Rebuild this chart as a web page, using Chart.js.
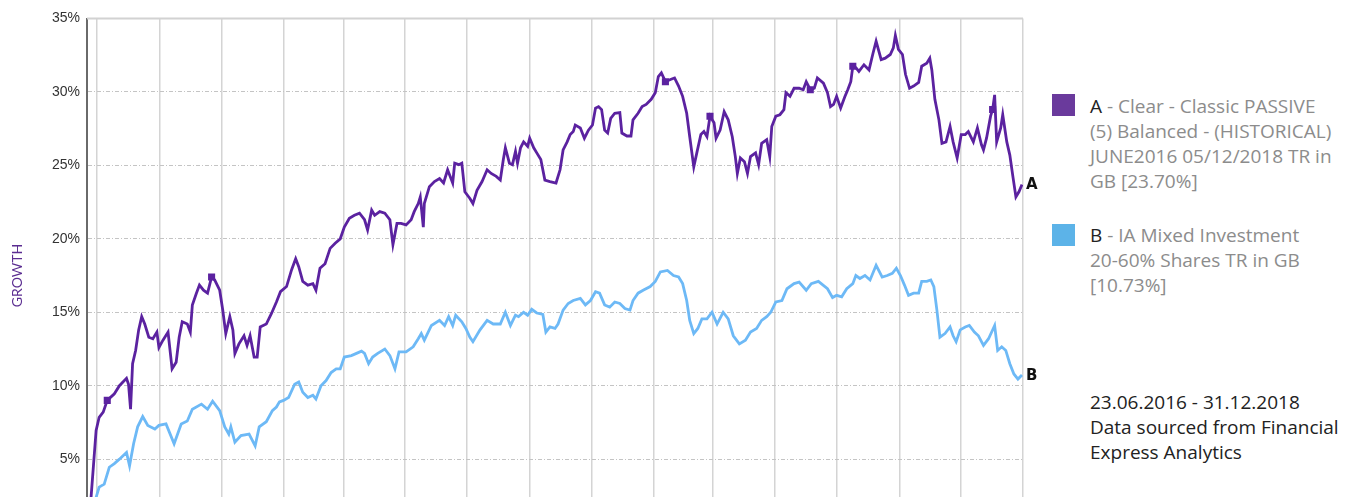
<!DOCTYPE html>
<html>
<head>
<meta charset="utf-8">
<script src="https://cdn.jsdelivr.net/npm/chart.js@4.4.1/dist/chart.umd.min.js"></script>
<style>
  html, body { margin: 0; padding: 0; background: #fff; overflow: hidden; width: 1354px; height: 497px; }
  #wrap { position: absolute; left: 0; top: 0; width: 1045px; height: 548px; }
  .legend { position: absolute; left: 1052px; font-family: "Open Sans", Lato, sans-serif; font-size: 19px; line-height: 25px; color: #8c8c8c; }
  .legend .sw { position: absolute; left: 0; top: 0; width: 23px; height: 22px; }
  .legend .txt { position: absolute; left: 38px; top: 0; white-space: nowrap; }
  .legend b { font-weight: normal; color: #222; }
  .note { position: absolute; left: 1090px; top: 390px; font-family: "Open Sans", Lato, sans-serif; font-size: 19px; line-height: 25px; color: #222; white-space: nowrap; }
</style>
</head>
<body>
<div id="wrap"><canvas id="chart"></canvas></div>

<div class="legend" style="top:94px">
  <div class="sw" style="background:#6a3a9c"></div>
  <div class="txt"><b>A</b> - Clear - Classic PASSIVE<br>(5) Balanced - (HISTORICAL)<br>JUNE2016 05/12/2018 TR in<br>GB [23.70%]</div>
</div>
<div class="legend" style="top:224px">
  <div class="sw" style="background:#5cb3e8"></div>
  <div class="txt" style="top:-1px"><b>B</b> - IA Mixed Investment<br>20-60% Shares TR in GB<br>[10.73%]</div>
</div>
<div class="note">23.06.2016 - 31.12.2018<br>Data sourced from Financial<br>Express Analytics</div>

<script>
// days counted from 23.06.2016
const startDate = Date.UTC(2016, 5, 23);

// vertical grid lines (every other month)
const gridMonths = [
  "2016-07-01", "2016-09-01", "2016-11-01", "2017-01-01", "2017-03-01", "2017-05-01",
  "2017-07-01", "2017-09-01", "2017-11-01", "2018-01-01", "2018-03-01", "2018-05-01",
  "2018-07-01", "2018-09-01", "2018-11-01", "2019-01-01"
];

const yTicks = [0, 5, 10, 15, 20, 25, 30, 35];

// A - Clear - Classic PASSIVE (5) Balanced
const daysA = [
  0, 2, 7, 10, 14, 18, 25, 30, 37, 39, 41, 43, 46, 49, 52, 55, 59, 63, 67, 69,
  73, 78, 82, 86, 89, 92, 97, 100, 102, 106, 109, 113, 117, 121, 124, 129, 132, 135, 139, 142,
  144, 148, 153, 156, 159, 163, 166, 169, 175, 180, 185, 189, 195, 200, 204, 207, 211, 216, 221, 224,
  228, 233, 238, 243, 248, 252, 257, 262, 267, 272, 275, 279, 282, 287, 292, 297, 300, 304, 308, 313,
  318, 321, 325, 327, 330, 331, 336, 341, 346, 350, 354, 359, 361, 365, 368, 371, 376, 379, 383, 388,
  393, 397, 402, 406, 409, 411, 415, 418, 421, 423, 426, 429, 433, 435, 439, 442, 446, 450, 455, 461,
  465, 468, 472, 475, 478, 480, 485, 489, 493, 497, 500, 503, 506, 509, 512, 515, 519, 524, 526, 531,
  535, 537, 542, 546, 550, 555, 559, 562, 565, 569, 574, 578, 582, 586, 590, 593, 597, 600, 604, 607,
  610, 613, 617, 619, 623, 627, 631, 635, 638, 640, 643, 647, 650, 653, 658, 661, 664, 669, 672, 674,
  678, 682, 686, 688, 692, 696, 701, 705, 708, 712, 716, 719, 725, 729, 732, 735, 738, 742, 746, 749,
  752, 754, 757, 760, 765, 770, 774, 777, 782, 786, 791, 794, 796, 799, 803, 806, 810, 814, 819, 822,
  827, 830, 832, 835, 839, 842, 846, 850, 853, 857, 861, 865, 868, 873, 877, 881, 883, 886, 890, 892,
  894, 896, 900, 902, 906, 909, 912, 915, 918, 921
];
const valuesA = [
  0, 2.4, 6.95, 7.85, 8.2, 9.0, 9.45, 10.0, 10.5, 10.1, 8.4, 11.5, 12.4, 13.8, 14.7, 14.2, 13.3, 13.2, 13.65, 12.6,
  13.1, 13.65, 11.15, 11.6, 13.3, 14.35, 14.2, 13.65, 15.5, 16.3, 16.85, 16.5, 16.3, 17.4, 17.2, 16.5, 15.15, 13.55, 14.7, 13.8,
  12.2, 12.85, 13.4, 12.75, 13.4, 11.95, 11.95, 14.0, 14.2, 14.9, 15.7, 16.4, 16.75, 17.9, 18.65, 18.1, 17.1, 16.85, 16.95, 16.5,
  18.0, 18.3, 19.35, 19.7, 20.0, 20.8, 21.4, 21.6, 21.75, 21.3, 20.6, 21.95, 21.6, 21.85, 21.75, 21.3, 19.6, 21.05, 21.05, 20.95,
  21.3, 21.85, 22.4, 22.85, 20.8, 22.4, 23.55, 23.9, 24.1, 23.8, 24.7, 23.8, 25.15, 25.05, 25.15, 23.2, 22.75, 22.4, 23.3, 23.9,
  24.7, 24.45, 24.25, 24.0, 25.4, 26.2, 25.15, 25.05, 25.95, 25.15, 26.2, 26.6, 26.3, 26.85, 26.2, 25.85, 25.4, 24.0, 23.9, 23.8,
  24.7, 26.05, 26.6, 27.1, 27.3, 27.75, 27.55, 26.85, 27.4, 27.75, 28.9, 29.0, 28.8, 27.4, 27.2, 28.2, 28.55, 28.6, 27.2, 27.0,
  27.0, 28.1, 28.55, 29.0, 29.15, 29.5, 29.95, 31.05, 31.3, 30.7, 30.85, 30.95, 30.4, 29.7, 28.55, 26.95, 24.9, 25.85, 27.1, 27.3,
  26.95, 28.35, 27.9, 26.85, 27.4, 28.65, 28.1, 26.95, 25.6, 24.45, 25.5, 25.25, 24.45, 25.6, 25.85, 25.05, 26.5, 26.75, 25.6, 27.65,
  28.35, 28.45, 28.8, 29.95, 29.7, 30.25, 30.25, 30.15, 30.7, 30.15, 30.25, 30.95, 30.6, 29.95, 29.0, 29.15, 29.7, 28.9, 29.65, 30.15,
  30.7, 31.75, 31.65, 31.4, 31.85, 31.5, 32.65, 33.45, 32.2, 32.3, 32.55, 33.0, 33.85, 32.9, 32.55, 31.2, 30.25, 30.4, 30.65, 31.75,
  31.95, 32.3, 31.5, 29.5, 28.1, 26.5, 26.6, 27.65, 26.6, 25.5, 27.1, 27.1, 27.3, 26.6, 27.55, 26.4, 26.05, 26.85, 28.35, 28.8,
  29.8, 26.6, 27.55, 28.45, 26.6, 25.7, 24.25, 22.85, 23.2, 23.7
];
// square markers on line A
const markerDaysA = [18, 121, 569, 613, 712, 754, 892];

// B - IA Mixed Investment 20-60% Shares
const daysB = [
  0, 7, 10, 15, 20, 25, 30, 37, 40, 44, 48, 53, 58, 65, 69, 76, 84, 91, 97, 102,
  111, 117, 122, 129, 134, 138, 140, 144, 150, 158, 164, 168, 175, 181, 185, 188, 192, 197, 203, 207,
  211, 216, 221, 224, 229, 234, 239, 244, 248, 252, 259, 264, 269, 272, 276, 280, 285, 292, 297, 302,
  306, 313, 320, 325, 328, 331, 338, 346, 351, 355, 359, 362, 368, 372, 376, 379, 386, 393, 399, 406,
  411, 416, 421, 424, 429, 433, 437, 442, 448, 451, 455, 460, 463, 468, 473, 478, 485, 490, 495, 500,
  504, 509, 514, 519, 524, 529, 534, 537, 542, 547, 554, 559, 564, 571, 577, 582, 586, 590, 593, 597,
  601, 605, 610, 615, 620, 626, 631, 636, 642, 648, 653, 659, 664, 669, 673, 678, 684, 689, 696, 701,
  708, 713, 720, 729, 734, 738, 743, 748, 754, 757, 761, 766, 771, 777, 783, 788, 793, 797, 801, 805,
  809, 814, 819, 822, 827, 831, 834, 837, 840, 845, 850, 853, 856, 860, 865, 869, 874, 878, 883, 888,
  894, 897, 901, 905, 909, 913, 917, 921
];
const valuesB = [
  0, 2.4, 3.1, 3.3, 4.45, 4.7, 5.0, 5.45, 4.55, 6.05, 7.2, 7.9, 7.3, 7.05, 7.3, 7.4, 6.05, 7.4, 7.6, 8.4,
  8.75, 8.4, 8.95, 8.3, 7.2, 6.7, 7.2, 6.15, 6.6, 6.7, 5.9, 7.2, 7.55, 8.3, 8.55, 8.9, 9.0, 9.2, 10.1, 10.25,
  9.55, 9.2, 9.35, 9.1, 10.0, 10.35, 10.9, 11.15, 11.15, 11.95, 12.05, 12.2, 12.35, 12.2, 11.5, 11.95, 12.2, 12.5, 12.05, 11.15,
  12.3, 12.3, 12.65, 13.2, 13.55, 13.1, 14.1, 14.45, 14.1, 14.7, 14.1, 14.8, 14.35, 13.9, 13.3, 13.0, 13.8, 14.45, 14.2, 14.2,
  15.0, 14.1, 14.8, 14.7, 15.0, 14.8, 15.2, 14.95, 14.85, 13.65, 14.0, 13.9, 14.2, 15.15, 15.6, 15.8, 15.95, 15.5, 15.8, 16.4,
  16.3, 15.5, 15.35, 15.7, 15.6, 15.25, 15.15, 15.8, 16.3, 16.5, 16.75, 17.1, 17.75, 17.85, 17.5, 17.4, 16.95, 15.8, 14.45, 13.55,
  13.9, 14.55, 14.55, 15.0, 14.2, 15.0, 14.55, 13.4, 12.85, 13.1, 13.65, 13.9, 14.45, 14.7, 15.0, 15.7, 15.8, 16.6, 16.95, 17.05,
  16.5, 16.95, 17.1, 16.6, 16.0, 16.15, 16.05, 16.6, 16.95, 17.5, 17.3, 17.5, 17.2, 18.2, 17.4, 17.5, 17.65, 18.0, 17.5, 16.85,
  16.15, 16.3, 16.3, 17.1, 17.1, 17.2, 16.75, 15.15, 13.3, 13.55, 14.0, 13.4, 13.0, 13.8, 14.0, 14.1, 13.65, 13.4, 12.75, 13.2,
  14.1, 12.4, 12.65, 12.4, 11.5, 10.8, 10.45, 10.73
];

const endLabels = ["A", "B"];
const colorA = "#5b22a0";
const colorB = "#6db9f6";

function dayOf(s) {
  const p = s.split("-").map(Number);
  return (Date.UTC(p[0], p[1] - 1, p[2]) - startDate) / 86400000;
}
const gridDays = gridMonths.map(dayOf);

const pointsA = daysA.map((d, i) => ({ x: d, y: valuesA[i] }));
const pointsB = daysB.map((d, i) => ({ x: d, y: valuesB[i] }));

const frameAndLabels = {
  id: "frameAndLabels",
  afterDraw(chart) {
    const { ctx, chartArea } = chart;
    ctx.save();
    ctx.strokeStyle = "#d2d2d2";
    ctx.lineWidth = 2;
    ctx.beginPath();
    ctx.moveTo(chartArea.left, chartArea.top);
    ctx.lineTo(chartArea.right, chartArea.top);
    ctx.stroke();
    ctx.font = "bold 15px 'DejaVu Sans', 'Liberation Sans', sans-serif";
    ctx.fillStyle = "#111";
    ctx.textBaseline = "middle";
    chart.data.datasets.forEach((ds, i) => {
      const pts = chart.getDatasetMeta(i).data;
      const last = pts[pts.length - 1];
      ctx.fillText(endLabels[i], last.x + 4, last.y + 1);
    });
    ctx.restore();
  }
};

new Chart(document.getElementById("chart"), {
  type: "line",
  data: {
    datasets: [
      {
        label: "A",
        data: pointsA,
        borderColor: colorA,
        backgroundColor: colorA,
        borderWidth: 2.8,
        tension: 0,
        pointStyle: "rect",
        pointRadius: daysA.map(d => markerDaysA.includes(d) ? 5 : 0),
        pointBorderWidth: 0
      },
      {
        label: "B",
        data: pointsB,
        borderColor: colorB,
        backgroundColor: colorB,
        borderWidth: 2.8,
        tension: 0,
        pointRadius: 0
      }
    ]
  },
  options: {
    responsive: true,
    maintainAspectRatio: false,
    animation: false,
    layout: { padding: { left: 0, top: 18.5, right: 22, bottom: 8 } },
    plugins: { legend: { display: false }, tooltip: { enabled: false } },
    scales: {
      x: {
        type: "linear",
        min: -2,
        max: 922,
        afterBuildTicks: s => { s.ticks = gridDays.map(v => ({ value: v })); },
        afterFit: s => { s.height = 0; },
        ticks: { display: false },
        grid: { color: "#d4d4d4", lineWidth: 1.5, drawTicks: false },
        border: { display: false }
      },
      y: {
        min: 0,
        max: 35,
        afterBuildTicks: s => { s.ticks = yTicks.map(v => ({ value: v })); },
        afterFit: s => { s.width = 87; },
        ticks: {
          callback: v => v + "%",
          padding: 7,
          color: "#333",
          font: { family: "'Liberation Sans', Arial, sans-serif", size: 14 }
        },
        grid: { color: "#c4c4c4", lineWidth: 1, drawTicks: false },
        border: { display: true, color: "#6a6a6a", width: 2, dash: [4, 2, 1, 2] },
        title: {
          display: true,
          text: "GROWTH",
          color: "#5b2d91",
          padding: { top: 9, bottom: 4 },
          font: { family: "Lato, 'Open Sans', sans-serif", size: 14 }
        }
      }
    }
  },
  plugins: [frameAndLabels]
});
</script>
</body>
</html>
